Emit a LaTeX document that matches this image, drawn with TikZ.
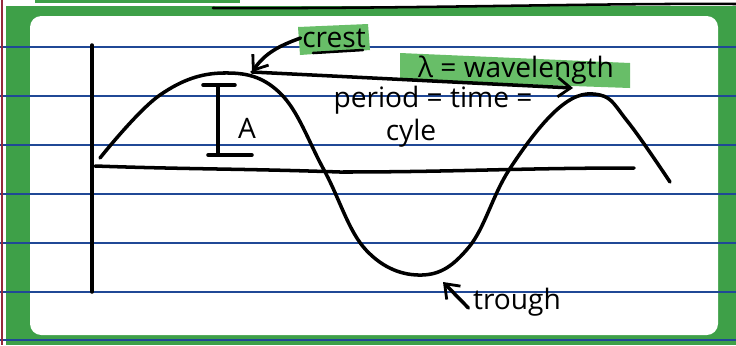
\documentclass[tikz,border=0pt]{standalone}
\usepackage{fontspec}
\setmainfont{Open Sans}
\usetikzlibrary{arrows.meta, positioning, calc}
\definecolor{frameGreen}{RGB}{62, 160, 72}
\definecolor{markGreen}{RGB}{104, 190, 104}
\definecolor{ruleBlue}{RGB}{32, 72, 150}
\definecolor{marginRed}{RGB}{150, 40, 60}

\begin{document}
\begin{tikzpicture}[x=0.025cm, y=-0.025cm, font=\fontsize{20}{23}\selectfont,
        ink/.style={line width=2.5pt, line cap=round, line join=round},
        ruling/.style={draw=ruleBlue, line width=1.1pt},
        barb/.style={-{Straight Barb[length=3.2mm, width=4.8mm, line width=2pt]}},
        lbl/.style={inner sep=1pt}]
    \useasboundingbox (0,0) rectangle (736,345);
    % card and frame
    \fill[white] (0,0) rectangle (736,345);
    \fill[frameGreen] (35,0) rectangle (240,3);
    \fill[frameGreen] (6,6) rectangle (736,345);
    \fill[white, rounded corners=8pt] (30,16) rectangle (718,335);
    \draw[ink, line width=1.8pt] (213,8) .. controls (400,9) and (600,3) .. (736,4);
    \foreach \y in {47,96,145,194,243,292,340}
        \draw[ruling] (0,\y) -- (736,\y);
    \draw[marginRed, line width=0.8pt] (2,0) -- (2,345);

    % highlights
    \fill[markGreen] (298,27) -- (368,24) -- (370,50) -- (300,55) -- cycle;
    \fill[markGreen] (400,53) -- (630,63) -- (630,88) -- (400,80) -- cycle;

    % axes and wave
    \draw[ink] (92,45) -- (92,292);
    \draw[ink] (95,166) to[out=-2, in=178] (340,172) to[out=0, in=180] (634,168);
    \draw[ink] plot[smooth, tension=0.65] coordinates {(100,158) (160,95) (223,73)
        (280,93) (324,170) (366,250) (422,275) (469,247) (509,170) (560,107)
        (600,95) (628,122) (670,182)};

    % amplitude
    \draw[ink] (203,85) -- (235,85) (218,85) -- (218,155) (208,155) -- (252,155);
    \node[lbl] (amp) at (247,128) {A};

    % labels
    \node[lbl] (crest) at (334,38) {crest};
    \draw[ink, line width=1.8pt] (313,53) -- (363,50);
    \node[lbl] (lambda) at (516,70) {λ = wavelength};
    \node[lbl] (period) at (433,100) {period = time =};
    \node[lbl] (cycle) at (411,133) {cyle};
    \node[lbl] (trough) at (517,302) {trough};

    \coordinate (crestTip) at (252,72);
    \coordinate (waveEnd) at (573,88);
    \coordinate (troughTip) at (443,282);

    % arrows
    \draw[ink, barb] (crest.west) to[out=200, in=55] (crestTip);
    \draw[ink, barb] (crestTip) -- (waveEnd);
    \draw[ink, barb] (trough.west) ++(-3,6) -- (troughTip);
\end{tikzpicture}
\end{document}
